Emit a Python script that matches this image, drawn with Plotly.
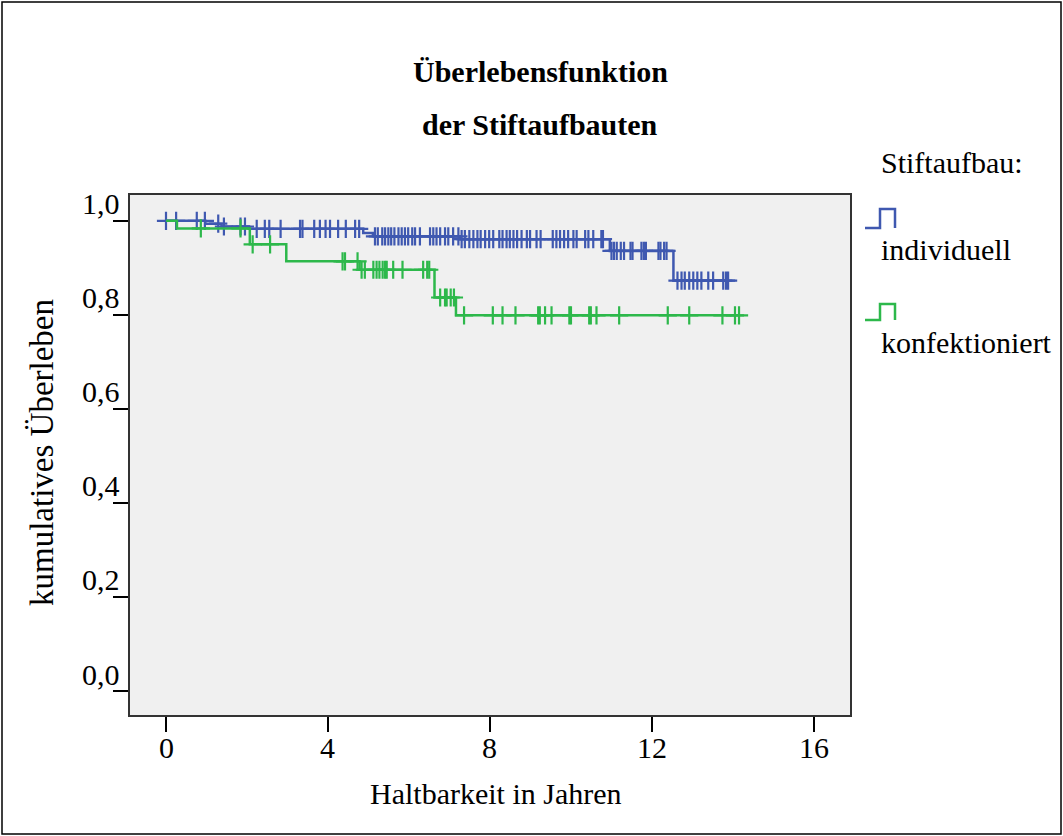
import numpy as np
import plotly.graph_objects as go

# Kaplan-Meier estimates: event times and survival after each step
ind_step_t = [0, 0.97, 1.37, 2.05, 4.87, 5.11, 7.26, 10.96, 12.53]
ind_step_s = [1.0, 0.994, 0.988, 0.983, 0.974, 0.967, 0.961, 0.936, 0.873]
ind_end = 13.88
ind_censor = [0.0, 0.25, 0.76, 0.96, 1.29, 1.43, 1.84, 1.95, 2.24, 2.44, 2.55, 2.83,
              3.31, 3.37, 3.66, 3.80, 3.94, 4.05, 4.25, 4.44, 4.67, 4.77, 5.16, 5.23,
              5.34, 5.41, 5.49, 5.56, 5.64, 5.74, 5.82, 5.90, 5.98, 6.08, 6.15, 6.27,
              6.52, 6.60, 6.68, 6.77, 6.89, 6.97, 7.09, 7.22, 7.30, 7.38, 7.49, 7.59,
              7.69, 7.77, 7.88, 7.98, 8.08, 8.23, 8.31, 8.41, 8.49, 8.58, 8.67, 8.78,
              8.91, 8.99, 9.15, 9.25, 9.55, 9.64, 9.73, 9.83, 9.93, 10.06, 10.14, 10.35,
              10.43, 10.55, 10.75, 10.79, 11.00, 11.06, 11.13, 11.23, 11.31, 11.47, 11.52,
              11.74, 11.80, 11.85, 12.16, 12.21, 12.30, 12.36, 12.63, 12.73, 12.81, 12.92,
              13.02, 13.12, 13.22, 13.39, 13.51, 13.76, 13.83, 13.88]

kon_step_t = [0, 0.27, 2.07, 2.97, 4.78, 6.63, 7.16]
kon_step_s = [1.0, 0.984, 0.950, 0.914, 0.896, 0.837, 0.799]
kon_end = 14.15
kon_censor = [0.86, 1.84, 2.14, 2.57, 4.36, 4.42, 4.73, 4.83, 4.91, 5.12, 5.20, 5.27,
              5.35, 5.41, 5.45, 5.61, 5.84, 6.35, 6.45, 6.50, 6.77, 6.89, 6.93, 7.03,
              7.11, 7.36, 8.07, 8.31, 8.63, 9.19, 9.23, 9.36, 9.52, 9.96, 10.0, 10.45,
              10.49, 10.63, 11.19, 12.39, 12.92, 13.74, 14.05, 14.15]

group_names = ["individuell", "konfektioniert"]
group_colors = ["#3F58B0", "#2DB84B"]

x_ticks = [0, 4, 8, 12, 16]
x_tick_text = ["0", "4", "8", "12", "16"]
y_ticks = [0.0, 0.2, 0.4, 0.6, 0.8, 1.0]
y_tick_text = ["0,0", "0,2", "0,4", "0,6", "0,8", "1,0"]

FONT = "Liberation Serif"
W, H = 1063, 836
L, R, T, B = 130, 213, 195, 121


def px(x):
    return (x - L) / (W - L - R)


def py(y):
    return (H - B - y) / (H - T - B)


def survival_at(times, surv, t):
    idx = np.searchsorted(np.asarray(times), np.asarray(t), side="right") - 1
    return np.asarray(surv)[idx]


fig = go.Figure()

curves = [
    (ind_step_t, ind_step_s, ind_end, ind_censor),
    (kon_step_t, kon_step_s, kon_end, kon_censor),
]
for (st, ss, end, cens), name, col in zip(curves, group_names, group_colors):
    xs = list(st) + [end]
    ys = list(ss) + [ss[-1]]
    fig.add_trace(go.Scatter(x=xs, y=ys, mode="lines", line=dict(color=col, width=2.5, shape="hv"),
                             name=name, showlegend=False, hoverinfo="skip"))
    fig.add_trace(go.Scatter(x=cens, y=survival_at(st, ss, cens), mode="markers",
                             marker=dict(symbol="cross-thin", size=13,
                                         line=dict(color=col, width=2.2)),
                             showlegend=False, hoverinfo="skip"))

annotations = []
# tick labels
for v, txt in zip(y_ticks, y_tick_text):
    annotations.append(dict(x=0, xref="paper", y=v, yref="y", text=txt, showarrow=False,
                            xanchor="right", yanchor="middle", xshift=-8, yshift=17,
                            font=dict(family=FONT, size=30, color="black")))
for v, txt in zip(x_ticks, x_tick_text):
    annotations.append(dict(x=v, xref="x", y=py(747), yref="paper", text=txt, showarrow=False,
                            xanchor="center", yanchor="middle",
                            font=dict(family=FONT, size=30, color="black")))

# titles
annotations.append(dict(x=px(540), y=py(72), xref="paper", yref="paper", text="<b>Überlebensfunktion</b>",
                        showarrow=False, xanchor="center", yanchor="middle",
                        font=dict(family=FONT, size=30, color="black")))
annotations.append(dict(x=px(540), y=py(124), xref="paper", yref="paper", text="<b>der Stiftaufbauten</b>",
                        showarrow=False, xanchor="center", yanchor="middle",
                        font=dict(family=FONT, size=30, color="black")))
annotations.append(dict(x=px(496), y=py(793), xref="paper", yref="paper", text="Haltbarkeit in Jahren",
                        showarrow=False, xanchor="center", yanchor="middle",
                        font=dict(family=FONT, size=30, color="black")))
annotations.append(dict(x=px(42), y=py(453), xref="paper", yref="paper", text="kumulatives Überleben",
                        showarrow=False, xanchor="center", yanchor="middle", textangle=-90,
                        font=dict(family=FONT, size=33, color="black")))

# legend
annotations.append(dict(x=px(879), y=py(162), xref="paper", yref="paper", text="Stiftaufbau:",
                        showarrow=False, xanchor="left", yanchor="middle",
                        font=dict(family=FONT, size=30, color="black")))
shapes = []
legend_rows = [(228, 209, 250), (320, 304, 342)]
for (base, top, text_y), name, col in zip(legend_rows, group_names, group_colors):
    path = (f"M {px(865)},{py(base)} L {px(880)},{py(base)} L {px(880)},{py(top)} "
            f"L {px(895)},{py(top)} L {px(895)},{py(base)}")
    shapes.append(dict(type="path", path=path, xref="paper", yref="paper",
                       line=dict(color=col, width=2.5)))
    annotations.append(dict(x=px(879), y=py(text_y), xref="paper", yref="paper", text=name,
                            showarrow=False, xanchor="left", yanchor="middle",
                            font=dict(family=FONT, size=30, color="black")))

# outer frame
shapes.append(dict(type="rect", xref="paper", yref="paper", x0=px(2), x1=px(1061),
                   y0=py(834), y1=py(2), line=dict(color="black", width=1.5)))

fig.update_layout(
    width=W, height=H,
    margin=dict(l=L, r=R, t=T, b=B),
    paper_bgcolor="white", plot_bgcolor="#F0F0F0",
    annotations=annotations, shapes=shapes,
    showlegend=False,
)
fig.update_xaxes(range=[-0.889, 16.89], tickvals=x_ticks, showticklabels=False,
                 ticks="outside", ticklen=15, tickwidth=2, tickcolor="black",
                 showline=True, linecolor="#333333", linewidth=2, mirror=True,
                 showgrid=False, zeroline=False)
fig.update_yaxes(range=[-0.051, 1.055], tickvals=y_ticks, showticklabels=False,
                 ticks="outside", ticklen=15, tickwidth=2, tickcolor="black",
                 showline=True, linecolor="#333333", linewidth=2, mirror=True,
                 showgrid=False, zeroline=False)

fig.write_html("out.html")
